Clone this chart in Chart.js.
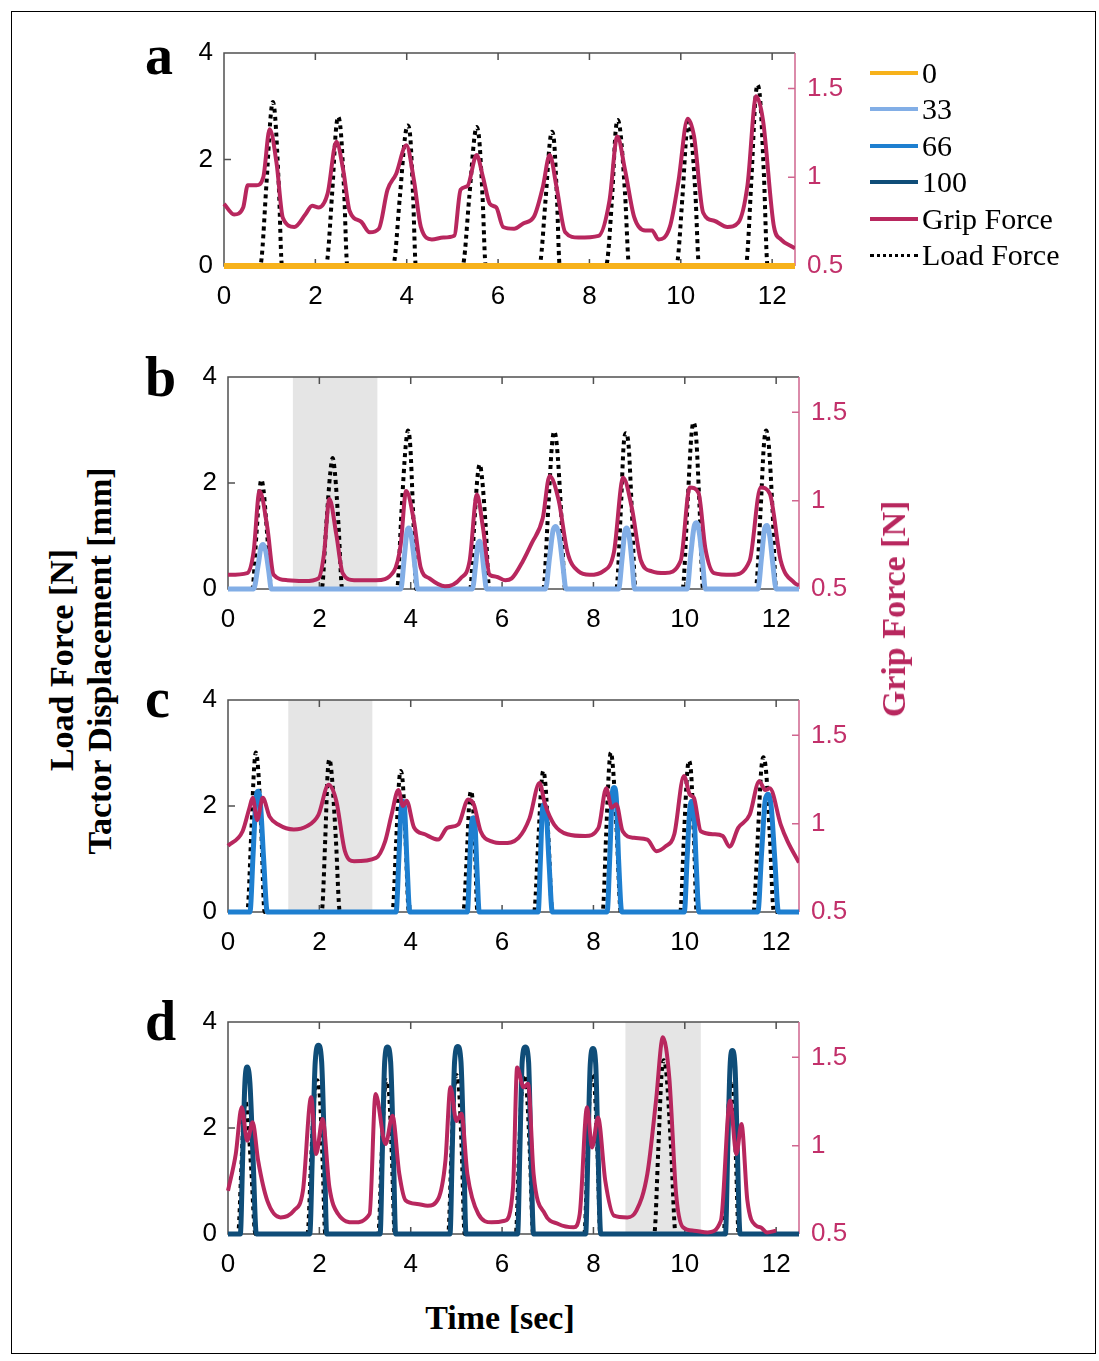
<!DOCTYPE html>
<html><head><meta charset="utf-8">
<script src="https://cdn.jsdelivr.net/npm/chart.js@4.4.1/dist/chart.umd.min.js"></script>
<style>
html,body{margin:0;padding:0;background:#fff;}
#page{position:relative;width:1099px;height:1361px;overflow:hidden;background:#fff;}
.frame{position:absolute;left:11px;top:11px;width:1085px;height:1343px;border:1.5px solid #000;box-sizing:border-box;}
canvas{position:absolute;}
.lbl{position:absolute;font-family:'Liberation Serif','Times New Roman',serif;white-space:nowrap;}
.panel{font-size:56px;line-height:56px;font-weight:bold;color:#000;}
.title{font-size:34px;line-height:38px;font-weight:bold;}
.rot{transform:translate(-50%,-50%) rotate(-90deg);}
.ctr{transform:translate(-50%,-50%);}
.leg{position:absolute;left:870px;height:36px;display:flex;align-items:center;}
.leg .ln{width:48px;height:0;}
.leg .tx{font-family:'Liberation Serif','Times New Roman',serif;font-size:30px;line-height:36px;color:#000;margin-left:4px;}
</style></head>
<body><div id="page"><div class="frame"></div></div>
<script>
// ---------- tick labels / axis ranges ----------
const xTicks = [0, 2, 4, 6, 8, 10, 12];
const yTicks = [0, 2, 4];
const gTicks = [0.5, 1, 1.5];
const X_MAX = 12.5, Y_MIN = 0, Y_MAX = 4, G_MIN = 0.5, G_MAX = 1.7;

// legend
const legendLabels = ['0', '33', '66', '100', 'Grip Force', 'Load Force'];

// shaded intervals [start, end] in seconds
const shadeB = [1.42, 3.27];
const shadeC = [1.32, 3.16];
const shadeD = [8.70, 10.35];

// ---------- panel a ----------
const zeroA = [[0,0],[12.5,0]];
const gripA = [[0,0.85],[0.22,0.79],[0.42,0.83],[0.52,0.955],[0.71,0.955],[0.86,1.0],[1.0,1.27],[1.15,1.08],[1.29,0.77],[1.54,0.72],[1.78,0.79],[1.93,0.84],[2.07,0.83],[2.27,0.91],[2.46,1.2],[2.61,1.04],[2.75,0.81],[3.0,0.75],[3.19,0.69],[3.39,0.71],[3.58,0.93],[3.77,1.02],[3.99,1.18],[4.16,0.98],[4.31,0.72],[4.55,0.65],[4.8,0.66],[5.04,0.67],[5.18,0.93],[5.33,0.95],[5.53,1.125],[5.67,1.0],[5.82,0.85],[5.96,0.83],[6.11,0.72],[6.35,0.71],[6.55,0.74],[6.79,0.78],[6.98,0.945],[7.13,1.125],[7.28,0.945],[7.47,0.69],[7.76,0.66],[8.2,0.67],[8.44,0.87],[8.61,1.23],[8.78,1.04],[8.98,0.775],[9.22,0.70],[9.37,0.70],[9.51,0.65],[9.76,0.72],[9.95,0.98],[10.15,1.33],[10.29,1.23],[10.49,0.80],[10.73,0.755],[11.02,0.72],[11.26,0.745],[11.46,0.955],[11.65,1.456],[11.8,1.32],[12.04,0.72],[12.19,0.65],[12.43,0.61],[12.5,0.6]];
const loadA = [[0,0],[0.79,0],[0.93,1.55],[1.02,2.8],[1.07,3.08],[1.12,2.8],[1.2,1.5],[1.27,0],
[2.23,0],[2.37,1.4],[2.45,2.55],[2.5,2.8],[2.56,2.5],[2.63,1.4],[2.7,0],
[3.7,0],[3.85,1.3],[3.96,2.4],[4.02,2.64],[4.08,2.4],[4.14,1.3],[4.2,0],
[5.22,0],[5.37,1.3],[5.48,2.4],[5.53,2.61],[5.59,2.35],[5.66,1.3],[5.73,0],
[6.9,0],[7.04,1.25],[7.13,2.3],[7.18,2.52],[7.23,2.3],[7.29,1.25],[7.35,0],
[8.36,0],[8.5,1.35],[8.57,2.5],[8.62,2.74],[8.68,2.5],[8.78,1.35],[8.87,0],
[9.9,0],[10.04,1.35],[10.12,2.45],[10.17,2.7],[10.23,2.45],[10.32,1.35],[10.4,0],
[11.42,0],[11.55,1.7],[11.63,3.1],[11.68,3.4],[11.74,3.1],[11.82,1.7],[11.9,0],[12.5,0]];

// ---------- panel b ----------
const gripB = [[0,0.58],[0.42,0.59],[0.56,0.71],[0.69,1.055],[0.86,0.85],[1.0,0.58],[1.3,0.55],[1.68,0.545],[1.98,0.56],[2.1,0.695],[2.22,1.01],[2.37,0.81],[2.51,0.59],[2.76,0.55],[3.24,0.55],[3.63,0.6],[3.78,0.75],[3.9,1.055],[4.07,0.885],[4.22,0.62],[4.41,0.56],[4.75,0.515],[5.09,0.56],[5.29,0.66],[5.45,1.035],[5.58,0.85],[5.73,0.58],[5.87,0.57],[6.07,0.55],[6.21,0.56],[6.46,0.66],[6.65,0.76],[6.89,0.9],[7.04,1.14],[7.24,1.0],[7.43,0.71],[7.67,0.6],[7.92,0.58],[8.21,0.6],[8.45,0.71],[8.65,1.13],[8.84,0.96],[9.04,0.66],[9.28,0.6],[9.57,0.59],[9.91,0.66],[10.11,1.075],[10.3,1.045],[10.45,0.73],[10.64,0.59],[11.03,0.58],[11.42,0.66],[11.66,1.075],[11.86,1.04],[12.1,0.66],[12.4,0.535],[12.5,0.52]];
const loadB = [[0,0],[0.53,0],[0.62,1.0],[0.69,1.85],[0.73,2.06],[0.78,1.85],[0.86,1.0],[0.95,0],
[2.05,0],[2.15,1.2],[2.24,2.2],[2.29,2.47],[2.34,2.2],[2.42,1.2],[2.5,0],
[3.7,0],[3.8,1.5],[3.89,2.7],[3.94,2.99],[3.99,2.7],[4.05,1.5],[4.12,0],
[5.3,0],[5.39,1.2],[5.46,2.1],[5.51,2.35],[5.56,2.1],[5.64,1.2],[5.72,0],
[6.9,0],[7.01,1.5],[7.09,2.7],[7.14,2.97],[7.2,2.7],[7.29,1.5],[7.38,0],
[8.5,0],[8.6,1.5],[8.66,2.7],[8.71,2.94],[8.77,2.7],[8.84,1.5],[8.92,0],
[9.95,0],[10.06,1.6],[10.14,2.85],[10.19,3.14],[10.25,2.85],[10.32,1.6],[10.4,0],
[11.55,0],[11.66,1.5],[11.73,2.7],[11.78,2.99],[11.84,2.7],[11.92,1.5],[12.0,0],[12.5,0]];
const disp33B = [[0,0],[0.56,0],[0.66,0.45],[0.72,0.78],[0.77,0.84],[0.83,0.7],[0.89,0.35],[0.95,0],
[3.78,0],[3.86,0.6],[3.92,1.1],[3.96,1.15],[4.02,0.95],[4.09,0.45],[4.15,0],
[5.35,0],[5.42,0.45],[5.47,0.85],[5.51,0.9],[5.56,0.7],[5.61,0.3],[5.66,0],
[6.95,0],[7.04,0.6],[7.12,1.12],[7.18,1.18],[7.25,1.0],[7.33,0.45],[7.4,0],
[8.55,0],[8.63,0.6],[8.69,1.1],[8.73,1.15],[8.79,0.95],[8.85,0.45],[8.9,0],
[10.05,0],[10.13,0.65],[10.21,1.2],[10.26,1.25],[10.32,1.05],[10.39,0.5],[10.45,0],
[11.6,0],[11.68,0.6],[11.75,1.15],[11.8,1.2],[11.86,1.0],[11.93,0.45],[12.0,0],[12.5,0]];

// ---------- panel c ----------
const gripC = [[0,0.875],[0.32,0.957],[0.47,1.09],[0.54,1.146],[0.64,1.02],[0.76,1.146],[0.91,1.04],[1.1,0.995],[1.44,0.967],[1.73,0.986],[1.98,1.05],[2.2,1.22],[2.37,1.13],[2.56,0.844],[2.76,0.787],[3.24,0.806],[3.44,0.9],[3.58,1.05],[3.73,1.19],[3.83,1.1],[3.91,1.13],[4.07,0.98],[4.31,0.94],[4.6,0.91],[4.8,0.976],[5.04,0.995],[5.26,1.137],[5.38,1.11],[5.53,0.957],[5.77,0.9],[6.02,0.89],[6.36,0.92],[6.6,1.03],[6.82,1.23],[6.94,1.11],[7.14,0.995],[7.43,0.94],[7.82,0.93],[8.11,0.976],[8.28,1.2],[8.4,1.09],[8.5,1.11],[8.64,0.957],[8.89,0.92],[9.18,0.91],[9.38,0.844],[9.57,0.87],[9.77,0.94],[9.98,1.27],[10.11,1.165],[10.2,1.146],[10.35,0.957],[10.64,0.94],[10.83,0.93],[10.98,0.87],[11.17,0.976],[11.42,1.05],[11.63,1.24],[11.76,1.19],[11.86,1.2],[12.1,0.995],[12.25,0.9],[12.5,0.78]];
const loadC = [[0,0],[0.42,0],[0.51,1.5],[0.57,2.7],[0.61,3.01],[0.66,2.7],[0.73,1.5],[0.8,0],
[2.05,0],[2.13,1.4],[2.18,2.6],[2.22,2.88],[2.27,2.6],[2.36,1.4],[2.45,0],
[3.6,0],[3.68,1.3],[3.74,2.4],[3.78,2.66],[3.83,2.4],[3.89,1.3],[3.96,0],
[5.15,0],[5.23,1.1],[5.28,2.05],[5.32,2.28],[5.36,2.05],[5.41,1.1],[5.46,0],
[6.7,0],[6.79,1.3],[6.86,2.4],[6.9,2.66],[6.95,2.4],[7.02,1.3],[7.1,0],
[8.2,0],[8.28,1.5],[8.34,2.7],[8.38,3.01],[8.43,2.7],[8.51,1.5],[8.6,0],
[9.9,0],[9.98,1.4],[10.05,2.6],[10.09,2.85],[10.14,2.6],[10.2,1.4],[10.26,0],
[11.5,0],[11.6,1.45],[11.67,2.65],[11.72,2.92],[11.78,2.65],[11.86,1.45],[11.95,0],[12.5,0]];
const disp66C = [[0,0],[0.48,0],[0.55,1.1],[0.61,2.1],[0.66,2.28],[0.71,2.05],[0.78,1.0],[0.86,0],
[3.68,0],[3.74,1.0],[3.79,1.95],[3.83,2.09],[3.87,1.9],[3.92,0.9],[3.98,0],
[5.24,0],[5.29,0.9],[5.33,1.65],[5.37,1.78],[5.41,1.6],[5.45,0.8],[5.5,0],
[6.79,0],[6.84,1.0],[6.88,1.9],[6.92,2.03],[6.97,1.85],[7.03,0.9],[7.1,0],
[8.3,0],[8.36,1.1],[8.41,2.2],[8.45,2.35],[8.5,2.15],[8.55,1.0],[8.62,0],
[9.99,0],[10.05,1.0],[10.11,1.95],[10.16,2.09],[10.2,1.9],[10.25,0.9],[10.31,0],
[11.6,0],[11.68,1.1],[11.76,2.1],[11.82,2.22],[11.89,2.0],[11.97,1.0],[12.05,0],[12.5,0]];

// ---------- panel d ----------
const gripD = [[0,0.745],[0.17,0.953],[0.3,1.217],[0.42,1.028],[0.54,1.132],[0.66,0.915],[0.86,0.689],[1.15,0.594],[1.44,0.632],[1.64,0.745],[1.82,1.274],[1.93,0.953],[2.07,1.151],[2.22,0.764],[2.41,0.613],[2.76,0.566],[3.1,0.613],[3.23,1.292],[3.45,1.009],[3.6,1.17],[3.75,0.84],[3.89,0.689],[4.14,0.67],[4.37,0.66],[4.6,0.698],[4.76,0.915],[4.87,1.33],[5.0,1.14],[5.11,1.18],[5.24,0.84],[5.48,0.613],[5.77,0.566],[6.06,0.575],[6.24,0.764],[6.33,1.443],[6.47,1.33],[6.57,1.35],[6.69,0.84],[6.94,0.613],[7.23,0.557],[7.57,0.538],[7.7,0.613],[7.86,1.217],[7.97,0.99],[8.1,1.16],[8.26,0.8],[8.45,0.604],[8.74,0.594],[8.94,0.632],[9.18,0.84],[9.37,1.255],[9.52,1.613],[9.66,1.387],[9.81,0.726],[9.96,0.538],[10.2,0.519],[10.5,0.509],[10.79,0.575],[10.99,1.255],[11.13,0.953],[11.24,1.123],[11.37,0.689],[11.56,0.547],[11.66,0.538],[11.8,0.509],[12.0,0.519]];
const loadD = [[0,0],[0.22,0],[0.29,1.2],[0.34,2.2],[0.38,2.5],[0.43,2.2],[0.51,1.2],[0.6,0],
[1.74,0],[1.82,1.4],[1.89,2.6],[1.95,2.9],[2.01,2.6],[2.07,1.4],[2.13,0],
[3.29,0],[3.36,1.4],[3.42,2.6],[3.47,2.9],[3.53,2.6],[3.59,1.4],[3.65,0],
[4.82,0],[4.89,1.5],[4.95,2.7],[5.0,3.0],[5.06,2.7],[5.12,1.5],[5.18,0],
[6.3,0],[6.37,1.5],[6.43,2.7],[6.48,3.0],[6.54,2.7],[6.61,1.5],[6.68,0],
[7.8,0],[7.87,1.5],[7.92,2.7],[7.97,3.0],[8.03,2.7],[8.09,1.5],[8.15,0],
[9.33,0],[9.42,1.6],[9.49,3.0],[9.54,3.28],[9.6,3.0],[9.7,1.6],[9.8,0],
[10.85,0],[10.92,1.4],[10.97,2.6],[11.02,2.9],[11.07,2.6],[11.12,1.4],[11.18,0],[12.5,0]];
const disp100D = [[0,0],[0.27,0],[0.32,1.4],[0.37,2.85],[0.42,3.15],[0.48,2.85],[0.55,1.4],[0.62,0],
[1.79,0],[1.85,1.6],[1.91,3.25],[1.98,3.56],[2.05,3.25],[2.11,1.6],[2.16,0],
[3.33,0],[3.38,1.6],[3.43,3.25],[3.49,3.53],[3.56,3.25],[3.62,1.6],[3.67,0],
[4.86,0],[4.91,1.6],[4.96,3.25],[5.03,3.54],[5.1,3.25],[5.16,1.6],[5.21,0],
[6.34,0],[6.39,1.6],[6.44,3.25],[6.51,3.53],[6.58,3.25],[6.63,1.6],[6.69,0],
[7.83,0],[7.88,1.6],[7.93,3.2],[7.99,3.5],[8.05,3.2],[8.1,1.6],[8.16,0],
[10.89,0],[10.94,1.6],[10.99,3.15],[11.04,3.46],[11.1,3.15],[11.15,1.6],[11.21,0],[12.5,0]];

// ---------- styles ----------
const C0 = '#f7b21b', C33 = '#82aee6', C66 = '#1e7fd0', C100 = '#0f4d78';
const GRIP = '#b8275e', GRIP_AX = '#d0668f', GRIP_TX = '#c2306a';
const AX = '#505050';
const SANS = "'Liberation Sans', Arial, sans-serif";

const page = document.getElementById('page');
const pts = a => a.map(p => ({x: p[0], y: p[1]}));

const framePlugin = {
  id: 'frame',
  beforeDatasetsDraw(chart) {
    const {ctx, chartArea: {left, right, top, bottom}, scales: {x, y, y2}} = chart;
    const sh = chart.options.plugins.frame.shade;
    ctx.save();
    if (sh) {
      const x1 = x.getPixelForValue(sh[0]), x2 = x.getPixelForValue(sh[1]);
      ctx.fillStyle = '#e5e5e5';
      ctx.fillRect(x1, top, x2 - x1, bottom - top);
    }
    ctx.lineWidth = 1.5;
    ctx.strokeStyle = AX;
    ctx.beginPath();
    ctx.moveTo(right, top); ctx.lineTo(left, top); ctx.lineTo(left, bottom); ctx.lineTo(right, bottom);
    xTicks.forEach(v => {
      const px = x.getPixelForValue(v);
      ctx.moveTo(px, bottom); ctx.lineTo(px, bottom - 7);
      ctx.moveTo(px, top); ctx.lineTo(px, top + 7);
    });
    yTicks.forEach(v => {
      const py = y.getPixelForValue(v);
      ctx.moveTo(left, py); ctx.lineTo(left + 7, py);
    });
    ctx.stroke();
    ctx.strokeStyle = GRIP_AX;
    ctx.beginPath();
    ctx.moveTo(right, top); ctx.lineTo(right, bottom);
    gTicks.forEach(v => {
      const py = y2.getPixelForValue(v);
      ctx.moveTo(right, py); ctx.lineTo(right - 7, py);
    });
    ctx.stroke();
    ctx.restore();
  }
};

const CLIP = {left: 4, right: 0, top: 4, bottom: 4};
function gripDs(d) { return {data: pts(d), yAxisID: 'y2', borderColor: GRIP, borderWidth: 4, clip: CLIP}; }
function loadDs(d) { return {data: pts(d), yAxisID: 'y', borderColor: '#000', borderWidth: 4, borderDash: [4, 4], borderCapStyle: 'butt', clip: CLIP}; }
function dispDs(d, c, w) { return {data: pts(d), yAxisID: 'y', borderColor: c, borderWidth: w || 5, clip: CLIP}; }

function makePanel(rect, datasets, shade) {
  const L = 130, R = 890, TOP = rect.t - 30, H = (rect.b - rect.t) + 90;
  const cv = document.createElement('canvas');
  cv.width = R - L; cv.height = H;
  cv.style.left = L + 'px'; cv.style.top = TOP + 'px';
  cv.style.width = (R - L) + 'px'; cv.style.height = H + 'px';
  page.appendChild(cv);
  const tickFont = {family: SANS, size: 26};
  new Chart(cv, {
    type: 'line',
    data: {datasets},
    options: {
      responsive: false, animation: false, devicePixelRatio: 1,
      layout: {autoPadding: false, padding: {top: 30, left: 0, right: 0, bottom: 0}},
      plugins: {legend: {display: false}, tooltip: {enabled: false}, frame: {shade}},
      elements: {point: {radius: 0}, line: {cubicInterpolationMode: 'monotone'}},
      scales: {
        x: {type: 'linear', min: 0, max: X_MAX,
            afterBuildTicks: s => { s.ticks = xTicks.map(v => ({value: v})); },
            afterFit: s => { s.height = 60; },
            grid: {display: false, drawTicks: false}, border: {display: false},
            ticks: {padding: 15, font: tickFont, color: '#000', autoSkip: false, maxRotation: 0,
                    callback: v => String(v)}},
        y: {type: 'linear', position: 'left', min: Y_MIN, max: Y_MAX,
            afterBuildTicks: s => { s.ticks = yTicks.map(v => ({value: v})); },
            afterFit: s => { s.width = rect.l - L; },
            grid: {display: false, drawTicks: false}, border: {display: false},
            ticks: {padding: 11, font: tickFont, color: '#000', callback: v => String(v)}},
        y2: {type: 'linear', position: 'right', min: G_MIN, max: G_MAX,
            afterBuildTicks: s => { s.ticks = gTicks.map(v => ({value: v})); },
            afterFit: s => { s.width = R - rect.r; },
            grid: {display: false, drawTicks: false}, border: {display: false},
            ticks: {padding: 12, font: tickFont, color: GRIP_TX, callback: v => String(v)}}
      }
    },
    plugins: [framePlugin]
  });
}

makePanel({l: 224, r: 795, t: 53, b: 266},
  [dispDs(zeroA, C0, 6), gripDs(gripA), loadDs(loadA)], null);
makePanel({l: 228, r: 799, t: 377, b: 589},
  [gripDs(gripB), dispDs(disp33B, C33), loadDs(loadB)], shadeB);
makePanel({l: 228, r: 799, t: 700, b: 912},
  [gripDs(gripC), dispDs(disp66C, C66), loadDs(loadC)], shadeC);
makePanel({l: 228, r: 799, t: 1022, b: 1234},
  [gripDs(gripD), dispDs(disp100D, C100), loadDs(loadD)], shadeD);

// ---------- text ----------
function addText(cls, txt, css) {
  const d = document.createElement('div');
  d.className = 'lbl ' + cls; d.textContent = txt;
  Object.assign(d.style, css);
  page.appendChild(d);
  return d;
}
[['a', 27], ['b', 349], ['c', 670], ['d', 993]].forEach(([t, top]) =>
  addText('panel', t, {left: '145px', top: top + 'px'}));
addText('title rot', 'Load Force [N]', {left: '62px', top: '660px', color: '#000'});
addText('title rot', 'Tactor Displacement [mm]', {left: '100px', top: '661px', color: '#000'});
addText('title rot', 'Grip Force [N]', {left: '894px', top: '609px', color: GRIP});
addText('title ctr', 'Time [sec]', {left: '500px', top: '1318px', color: '#000'});

// legend
const legendStyles = [
  `border-top:4px solid ${C0}`, `border-top:4px solid ${C33}`, `border-top:4px solid ${C66}`,
  `border-top:4px solid ${C100}`, `border-top:4px solid ${GRIP}`, `border-top:3px dotted #000`];
const legendRows = [73, 109, 146, 182, 219, 255];
legendLabels.forEach((lab, i) => {
  const row = document.createElement('div');
  row.className = 'leg';
  row.style.top = (legendRows[i] - 18) + 'px';
  row.innerHTML = `<span class="ln" style="${legendStyles[i]}"></span><span class="tx"></span>`;
  row.querySelector('.tx').textContent = lab;
  page.appendChild(row);
});
</script>
</body></html>
